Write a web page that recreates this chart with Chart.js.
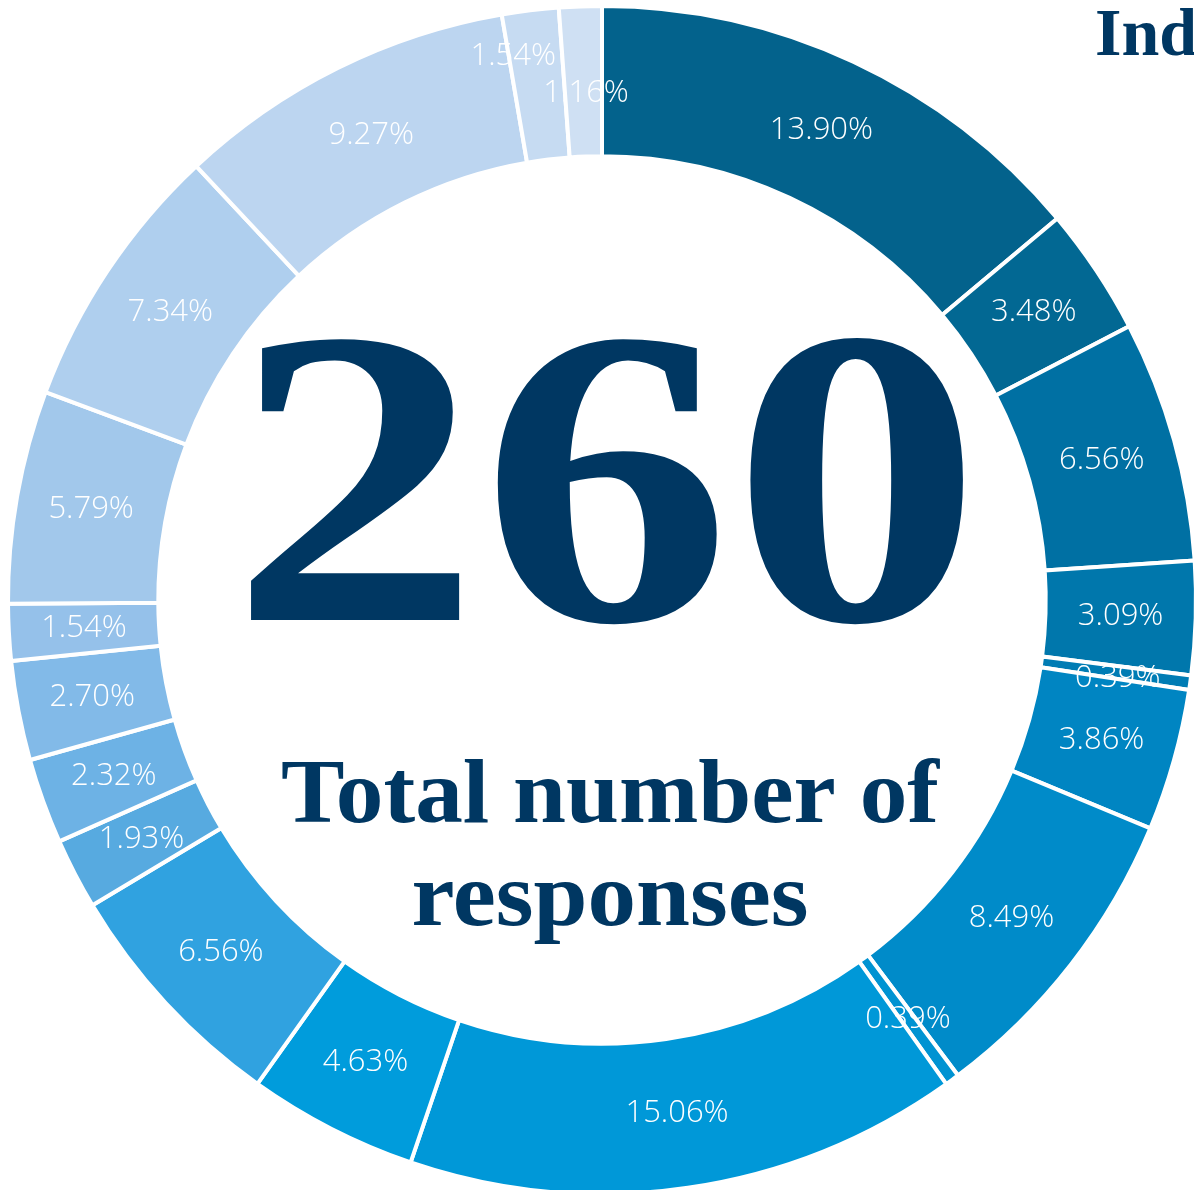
<!DOCTYPE html>
<html>
<head>
<meta charset="utf-8">
<script src="https://cdn.jsdelivr.net/npm/chart.js@4.4.1/dist/chart.umd.min.js"></script>
<style>
  html, body { margin: 0; padding: 0; background: #fff; overflow: hidden; }
  #wrap { position: relative; width: 1200px; height: 1200px; }
</style>
</head>
<body>
<div id="wrap"><canvas id="donutChart"></canvas></div>
<script>
// values, clockwise from 12 o'clock
const sliceNames = [
  "S1", "S2", "S3", "S4", "S5", "S6", "S7", "S8", "S9", "S10",
  "S11", "S12", "S13", "S14", "S15", "S16", "S17", "S18", "S19", "S20",
];
const shares = [
  13.90, 3.48, 6.56, 3.09, 0.39, 3.86, 8.49, 0.39, 15.06, 4.63,
  6.56, 1.93, 2.32, 2.70, 1.54, 5.79, 7.34, 9.27, 1.54, 1.16,
];
const sliceColors = [
  "#03628c", "#026893", "#0070a3", "#0077ac", "#007cb4",
  "#0085c2", "#008bc9", "#0093d2", "#0098d8", "#009cdc",
  "#30a2e0", "#57aae0", "#6db2e5", "#82bae8", "#95c1ea",
  "#a2c8eb", "#afcfee", "#bcd5f0", "#c6dbf2", "#cfe0f3",
];
const totalResponses = "260";
const centerCaption = ["Total number of", "responses"];
const cornerTitle = "Ind";

const navy = "#003762";

// the two thin slices at the top have their labels pushed apart
const labelNudge = { 4: [2, 6], 18: [-26, -29], 19: [3, 12] };

// draw a text line squeezed/stretched to a given width
const fitText = (ctx, text, cx, baseline, width) => {
  const natural = ctx.measureText(text).width;
  ctx.save();
  ctx.translate(cx, baseline);
  ctx.scale(width / natural, 1);
  ctx.textAlign = "center";
  ctx.fillText(text, 0, 0);
  ctx.restore();
};

const sliceLabels = {
  id: "sliceLabels",
  afterDatasetsDraw(chart) {
    const ctx = chart.ctx;
    const meta = chart.getDatasetMeta(0);
    ctx.save();
    ctx.fillStyle = "#ffffff";
    ctx.font = "300 31px 'Open Sans', 'Noto Sans', sans-serif";
    ctx.textAlign = "center";
    ctx.textBaseline = "middle";
    meta.data.forEach((arc, i) => {
      const p = arc.getCenterPoint();
      const [dx, dy] = labelNudge[i] || [0, 0];
      ctx.fillText(shares[i].toFixed(2) + "%", p.x + dx, p.y + dy);
    });
    ctx.restore();
  },
};

const centerText = {
  id: "centerText",
  afterDraw(chart) {
    const ctx = chart.ctx;
    ctx.save();
    ctx.fillStyle = navy;
    ctx.textBaseline = "alphabetic";

    ctx.font = "bold 424px 'Liberation Serif', 'DejaVu Serif', serif";
    fitText(ctx, totalResponses, 606, 620, 752);

    ctx.font = "bold 90px 'Liberation Serif', 'DejaVu Serif', serif";
    fitText(ctx, centerCaption[0], 610, 822, 658);
    fitText(ctx, centerCaption[1], 610, 925, 397);

    ctx.font = "bold 68px 'Liberation Serif', 'DejaVu Serif', serif";
    ctx.textAlign = "left";
    ctx.fillText(cornerTitle, 1095, 55);
    ctx.restore();
  },
};

const ctx = document.getElementById("donutChart");
new Chart(ctx, {
  type: "doughnut",
  data: {
    labels: sliceNames,
    datasets: [{
      data: shares,
      backgroundColor: sliceColors,
      borderColor: "#ffffff",
      borderWidth: 4,
    }],
  },
  options: {
    responsive: true,
    maintainAspectRatio: false,
    animation: false,
    cutout: "74.7%",
    layout: { padding: { left: 6, right: 2, top: 4, bottom: 4 } },
    plugins: {
      legend: { display: false },
      tooltip: { enabled: false },
    },
  },
  plugins: [sliceLabels, centerText],
});
</script>
</body>
</html>
